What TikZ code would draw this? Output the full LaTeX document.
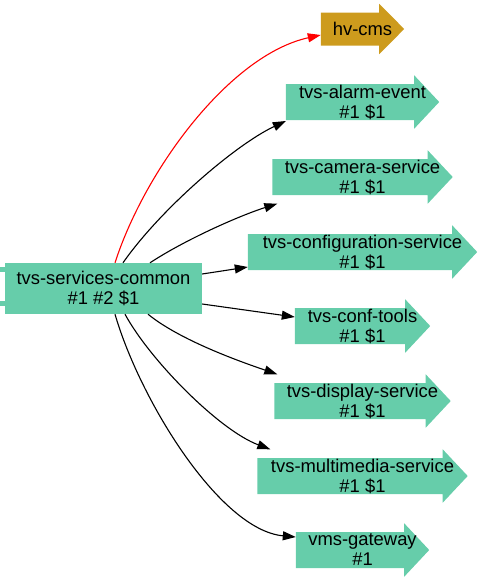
\documentclass[tikz,border=0pt]{standalone}
\usepackage{fontspec}
\setmainfont{Liberation Sans}
\usetikzlibrary{arrows.meta,backgrounds}
\definecolor{svcgreen}{HTML}{66CDAA}
\definecolor{cmsgold}{HTML}{CD9B1D}

\begin{document}
\begin{tikzpicture}[x=1pt, y=-1pt,
    svc/.style={inner sep=0pt, minimum height=53pt, align=center, font=\fontsize{18.4}{20}\selectfont},
    dep/.style={line width=1.1pt, -{Triangle[length=13pt,width=9pt]}}]
    \useasboundingbox (0,0) rectangle (481,581);

    % Central package
    \node[svc, fill=svcgreen, minimum width=197pt, minimum height=51pt] (common) at (103.5,288.5) {tvs-services-common\\\#1 \#2 \$1};

    % Dependent packages
    \node[svc, minimum width=83pt, minimum height=50pt] (hvcms) at (362.5,29) {hv-cms};
    \foreach \nm/\txt/\yy/\ww in {alarm/tvs-alarm-event/102/153, camera/tvs-camera-service/177/180,
        config/tvs-configuration-service/252/229, conftools/tvs-conf-tools/326/135,
        display/tvs-display-service/401/176, media/tvs-multimedia-service/476/210}
        \node[svc, minimum width=\ww] (\nm) at (362.5,\yy) {\txt\\\#1 \$1};
    \node[svc, minimum width=133pt] (vmsgw) at (362.5,550) {vms-gateway\\\#1};

    % Arrow shapes and tabs
    \begin{scope}[on background layer]
        \foreach \nm in {alarm,camera,config,conftools,display,media,vmsgw}
            \fill[svcgreen] ([yshift=18pt]\nm.west) -- ([xshift=-25pt,yshift=18pt]\nm.east)
                -- ([xshift=-25pt]\nm.north east) -- (\nm.east) -- ([xshift=-25pt]\nm.south east)
                -- ([xshift=-25pt,yshift=-18pt]\nm.east) -- ([yshift=-18pt]\nm.west) -- cycle;
        \fill[cmsgold] ([yshift=16.5pt]hvcms.west) -- ([xshift=-25pt,yshift=16.5pt]hvcms.east)
            -- ([xshift=-25pt]hvcms.north east) -- (hvcms.east) -- ([xshift=-25pt]hvcms.south east)
            -- ([xshift=-25pt,yshift=-16.5pt]hvcms.east) -- ([yshift=-16.5pt]hvcms.west) -- cycle;
        \fill[svcgreen] ([xshift=-5pt,yshift=-4pt]common.north west) rectangle ++(9,5);
        \fill[svcgreen] ([xshift=-5pt,yshift=8pt]common.south west) rectangle ++(9,-5);
    \end{scope}

    % Dependencies
    \draw[dep, red] ([xshift=11.5pt]common.north) .. controls +(30,-93) and +(-91,20) .. ([yshift=-6pt]hvcms.west);
    \draw[dep] ([xshift=19.5pt]common.north) .. controls +(37,-53) and +(-51,24) .. ([yshift=-19pt]alarm.west);
    \draw[dep] ([xshift=46.5pt]common.north) .. controls +(35,-23) and +(-38,12) .. ([xshift=5pt]camera.south west);
    \draw[dep] ([yshift=14.5pt]common.east) -- ([yshift=-15pt]config.west);
    \draw[dep] ([yshift=-15.5pt]common.east) -- ([yshift=9pt]conftools.west);
    \draw[dep] ([xshift=44.5pt]common.south) .. controls +(32,26) and +(-38,-13) .. ([xshift=3pt]display.north west);
    \draw[dep] ([xshift=21.5pt]common.south) .. controls +(25,46) and +(-51,-19) .. ([xshift=13pt]media.north west);
    \draw[dep] ([xshift=11.5pt]common.south) .. controls +(25,86) and +(-76,-7) .. ([yshift=13pt]vmsgw.west);
\end{tikzpicture}
\end{document}
